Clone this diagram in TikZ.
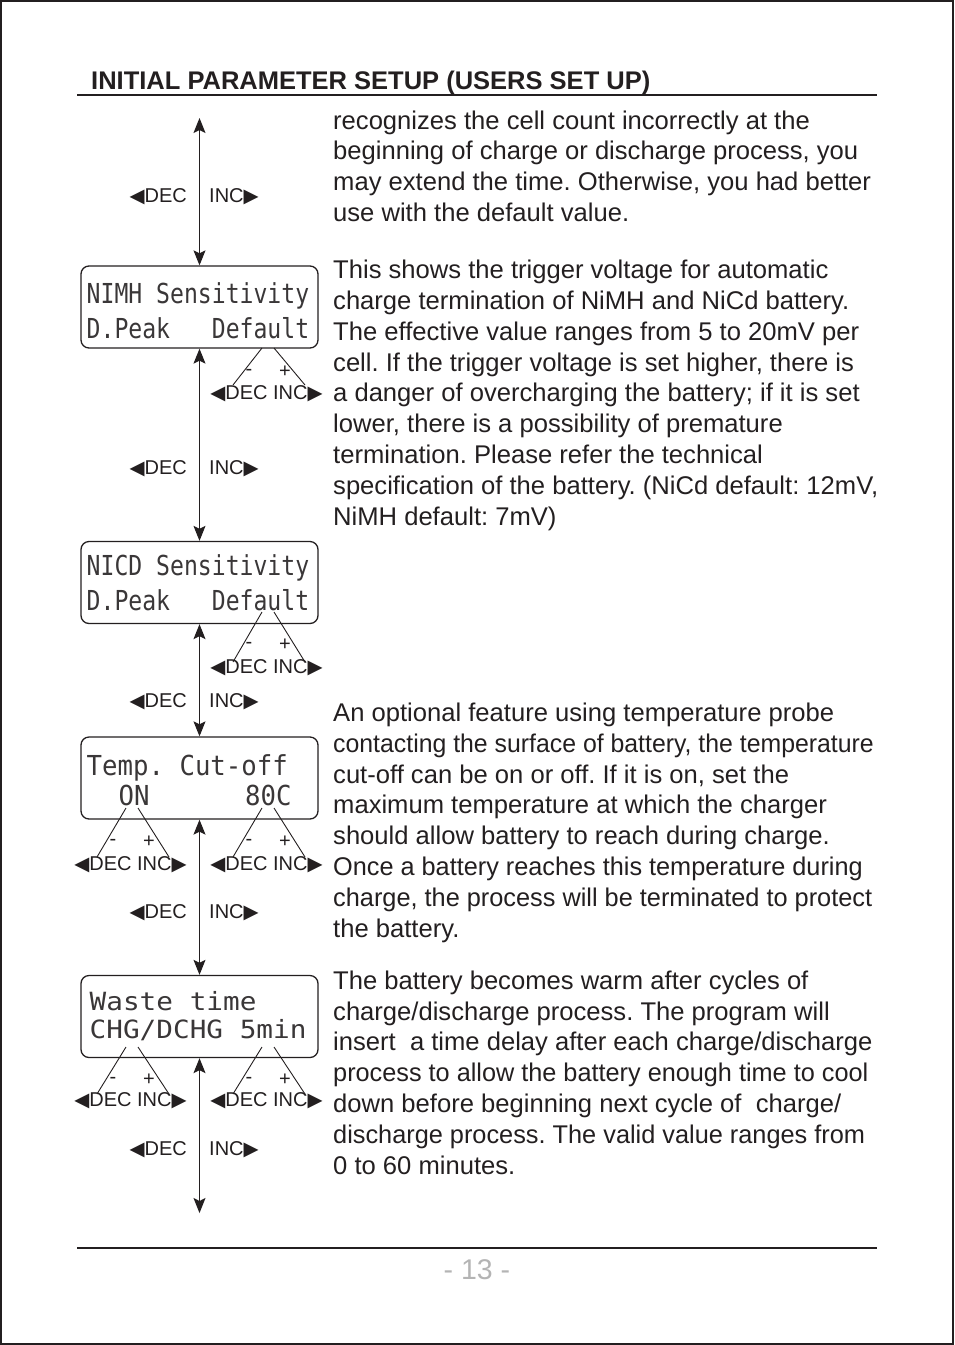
\documentclass[tikz,border=0pt]{standalone}
\usepackage{fontspec}
\usepackage{graphicx}
\setmainfont{Liberation Sans}
\newfontfamily\symf{DejaVu Sans}
\newfontfamily\lcdf{DejaVu Sans Mono}
\usetikzlibrary{arrows.meta}
\definecolor{ink}{HTML}{231F20}
\definecolor{lcdink}{HTML}{3A3738}
\definecolor{pagegray}{HTML}{B4B4B4}
\frenchspacing
\newcommand{\LT}{{\symf\fontsize{19.5}{19.5}\selectfont ◀}}
\newcommand{\RT}{{\symf\fontsize{19.5}{19.5}\selectfont ▶}}
\newcommand{\lcdtxt}[3]{\scalebox{1}[#2]{\fontsize{#1}{#1}\lcdf #3}}
\newcommand{\sq}[2]{\scalebox{#1}[1]{#2}}
\newcommand{\decinc}[6]{%
 \begin{scope}[xshift=#1pt]
  \coordinate (#6la) at (262,#2); \coordinate (#6lb) at (233,#3);
  \coordinate (#6ra) at (274,#2); \coordinate (#6rb) at (305,#3);
  \draw[lead] (#6la) -- (#6lb);
  \draw[lead] (#6ra) -- (#6rb);
  \node[lbl] (#6m) at (249,#4) {-};
  \node[lbl] (#6p) at (285,#4) {+};
  \node[lbl,anchor=base] (#6t) at (266.5,#5) {\LT DEC INC\RT};
 \end{scope}}
\begin{document}
\begin{tikzpicture}[x=1pt,y=-1pt,
  lcdbox/.style={draw=ink, line width=1.3pt, rounded corners=8pt, minimum width=237pt, minimum height=82pt, inner sep=0},
  spine/.style={draw=ink, line width=1.1pt, {Stealth[length=15pt,width=12pt,inset=3pt]}-{Stealth[length=15pt,width=12pt,inset=3pt]}},
  lbl/.style={font=\fontsize{20}{20}\selectfont, text=ink, inner sep=0},
  lead/.style={draw=ink, line width=0.9pt},
  body/.style={font=\fontsize{25.6}{30.8}\selectfont, align=left, anchor=base west, inner sep=0, text=ink},
  lcd/.style={anchor=base west, inner sep=0, text=lcdink}]
\useasboundingbox (0,0) rectangle (954,1345);
\draw[ink, line width=1.8pt] (1,1) rectangle (953,1344);

% header
\node[anchor=base west, inner sep=0, text=ink, font=\bfseries\fontsize{25.5}{25.5}\selectfont] (hdr) at (91,89) {INITIAL PARAMETER SETUP (USERS SET UP)};
\coordinate (hl) at (77,95); \coordinate (hr) at (877,95);
\draw[ink, line width=1.8pt] (hl) -- (hr);

% LCD boxes
\node[lcdbox] (b1) at (199.5,307) {};
\node[lcdbox] (b2) at (199.5,582.5) {};
\node[lcdbox] (b3) at (199.5,778) {};
\node[lcdbox] (b4) at (199.5,1016.5) {};

\node[lcd] (t1a) at (86.5,303) {\lcdtxt{23.1}{1.19}{NIMH Sensitivity}};
\node[lcd] (t1b) at (86.5,338) {\lcdtxt{23.1}{1.19}{D.Peak\ \ \ Default}};
\node[lcd] (t2a) at (86.5,575) {\lcdtxt{23.1}{1.19}{NICD Sensitivity}};
\node[lcd] (t2b) at (86.5,610) {\lcdtxt{23.1}{1.19}{D.Peak\ \ \ Default}};
\node[lcd] (t3a) at (86.5,775) {\lcdtxt{25.7}{1.07}{Temp. Cut-off}};
\node[lcd] (t3b) at (118.5,805) {\lcdtxt{25.7}{1.07}{ON}};
\node[lcd] (t3c) at (245,805) {\lcdtxt{25.7}{1.07}{80C}};
\node[lcd] (t4a) at (89.5,1010) {\lcdtxt{27.7}{0.906}{Waste time}};
\node[lcd] (t4b) at (89.5,1038) {\lcdtxt{27.7}{0.906}{CHG/DCHG 5min}};

% spine
\coordinate (top) at (199.5,118);
\coordinate (bot) at (199.5,1213);
\draw[spine] (top) -- (b1.north);
\draw[spine] (b1.south) -- (b2.north);
\draw[spine] (b2.south) -- (b3.north);
\draw[spine] (b3.south) -- (b4.north);
\draw[spine] (b4.south) -- (bot);

\foreach \yy/\nm in {202/s1,474/s2,707/s3,918/s4,1155/s5}{
  \node[lbl,anchor=base east] (\nm d) at (187,\yy) {\LT DEC};
  \node[lbl,anchor=base west] (\nm i) at (209,\yy) {INC\RT};
}

% DEC/INC leads
\decinc{0}{348}{385}{372}{399}{k1}
\decinc{0}{612}{662}{645}{673}{k2}
\decinc{-136}{808}{857}{842}{870}{k3l}
\decinc{0}{808}{857}{842}{870}{k3r}
\decinc{-136}{1047}{1094}{1080}{1106}{k4l}
\decinc{0}{1047}{1094}{1080}{1106}{k4r}

% body text (anchor = baseline of last line)
\node[body] (p1) at (333,221.5) {recognizes the cell count incorrectly at the\\
beginning of charge or discharge process, you\\
may extend the time. Otherwise, you had better\\
use with the default value.};
\node[body] (p2) at (333,525) {This shows the trigger voltage for automatic\\
charge termination of NiMH and NiCd battery.\\
The effective value ranges from 5 to 20mV per\\
cell. If the trigger voltage is set higher, there is\\
a danger of overcharging the battery; if it is set\\
lower, there is a possibility of premature\\
termination. Please refer the technical\\
specification of the battery. (NiCd default: 12mV,\\
NiMH default: 7mV)};
\node[body] (p3) at (333,937) {An optional feature using temperature probe\\
\sq{0.97}{contacting the surface of battery, the temperature}\\
cut-off can be on or off. If it is on, set the\\
maximum temperature at which the charger\\
should allow battery to reach during charge.\\
\sq{0.987}{Once a battery reaches this temperature during}\\
\sq{0.989}{charge, the process will be terminated to protect}\\
the battery.};
\node[body] (p4) at (333,1174) {The battery becomes warm after cycles of\\
charge/discharge process. The program will\\
insert\ \ a time delay after each charge/discharge\\
\sq{0.987}{process to allow the battery enough time to cool}\\
down before beginning next cycle of\ \ charge/\\
\sq{0.989}{discharge process. The valid value ranges from}\\
0 to 60 minutes.};

% footer
\coordinate (fl) at (77,1248); \coordinate (fr) at (877,1248);
\draw[ink, line width=2.2pt] (fl) -- (fr);
\node[anchor=base, inner sep=0, text=pagegray, font=\fontsize{28.5}{28.5}\selectfont] (pg) at (477,1279) {- 13 -};
\end{tikzpicture}
\end{document}
